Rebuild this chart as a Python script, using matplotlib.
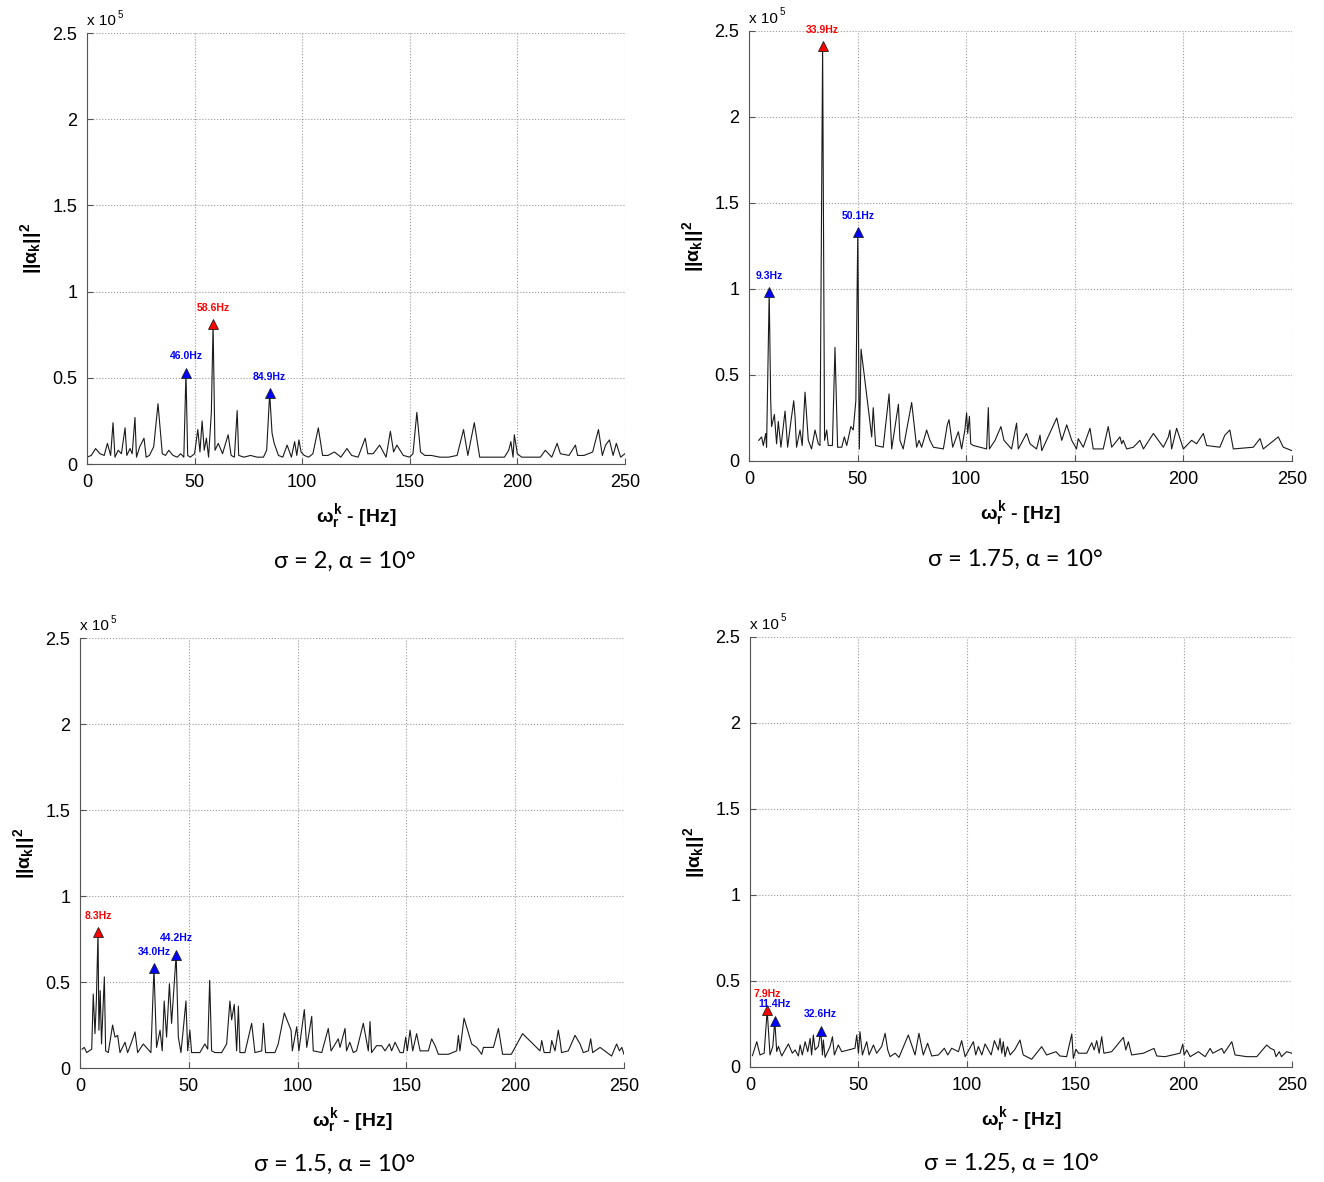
import numpy as np
import matplotlib
matplotlib.use('Agg')
import matplotlib.pyplot as plt

plt.rcParams['font.family'] = ['Liberation Sans', 'DejaVu Sans']
plt.rcParams['mathtext.fontset'] = 'custom'
plt.rcParams['mathtext.rm'] = 'Liberation Sans:bold'
plt.rcParams['mathtext.it'] = 'Liberation Sans:bold'
plt.rcParams['mathtext.bf'] = 'Liberation Sans:bold'

# values are in units of 1e5 (axis shows "x 10^5")

# sigma = 2
tl_freq = [0, 2, 4, 6, 8, 9.5, 11, 12.1, 13, 14.5,
           16, 17.7, 18.5, 20, 21, 22.3, 23, 24.5, 26.5, 27.5,
           29, 31, 33, 35, 36.5, 38, 40, 42, 43.5, 45,
           46.0, 46.8, 48, 50, 51.5, 52.5, 53.5, 54.5, 55.5, 56.5,
           57.8, 58.6, 59.5, 61, 63, 65.6, 67, 68.5, 69.8, 70.5,
           73, 76, 79, 82, 83.5, 84.9, 86, 87, 89, 91,
           93, 95, 96.5, 97.5, 98.5, 99.5, 101, 103, 105, 107.5,
           109.5, 112, 115, 118, 120.8, 123, 126, 129.3, 130.5, 133,
           136, 139, 141, 142.5, 144, 147, 150, 151.5, 153.3, 155,
           157, 160, 164, 168, 172, 175, 177, 180, 182.5, 186,
           190, 194, 196, 197, 198, 198.6, 200, 202, 205, 208,
           210.7, 213, 216, 218.5, 220, 224, 227, 228, 231, 235,
           237.7, 239.5, 241, 242.8, 244.5, 246, 248, 250]
tl_vals = [0.04, 0.05, 0.09, 0.06, 0.05, 0.12, 0.05, 0.24, 0.04, 0.08,
           0.06, 0.21, 0.05, 0.09, 0.06, 0.27, 0.04, 0.10, 0.15, 0.04,
           0.05, 0.10, 0.35, 0.06, 0.05, 0.08, 0.05, 0.04, 0.06, 0.04,
           0.53, 0.05, 0.04, 0.06, 0.20, 0.07, 0.25, 0.08, 0.15, 0.04,
           0.30, 0.81, 0.08, 0.12, 0.06, 0.17, 0.05, 0.04, 0.31, 0.05,
           0.04, 0.05, 0.04, 0.04, 0.08, 0.41, 0.18, 0.12, 0.05, 0.04,
           0.11, 0.04, 0.13, 0.05, 0.14, 0.07, 0.05, 0.04, 0.06, 0.21,
           0.05, 0.05, 0.07, 0.04, 0.09, 0.05, 0.04, 0.15, 0.06, 0.06,
           0.11, 0.04, 0.19, 0.07, 0.11, 0.05, 0.04, 0.06, 0.30, 0.07,
           0.05, 0.05, 0.04, 0.04, 0.05, 0.20, 0.05, 0.24, 0.04, 0.04,
           0.04, 0.04, 0.08, 0.13, 0.04, 0.17, 0.06, 0.04, 0.04, 0.04,
           0.04, 0.08, 0.04, 0.12, 0.06, 0.05, 0.11, 0.05, 0.05, 0.07,
           0.20, 0.05, 0.11, 0.14, 0.05, 0.12, 0.04, 0.06]
tl_peaks = [46.0, 58.6, 84.9]
tl_main = 58.6

# sigma = 1.75
tr_freq = [4.5, 5.8, 6.6, 7.7, 8.1, 9.3, 10.0, 10.4, 11.7, 12.7,
           13.5, 14.7, 16.6, 17.8, 19.2, 20.6, 21.2, 21.9, 23.5, 24.5,
           25.8, 27.3, 28.8, 30.4, 31.9, 32.7, 33.9, 34.8, 35.8, 36.5,
           38.4, 39.6, 40.8, 42.7, 43.9, 45.0, 46.9, 48.0, 49.2, 50.1,
           50.8, 51.6, 54.8, 56.5, 57.2, 58.3, 61.8, 64.5, 65.7, 68.8,
           69.5, 71.0, 74.9, 77.2, 78.3, 79.5, 81.8, 83.3, 84.9, 89.5,
           91.3, 92.1, 93.8, 96.4, 97.9, 99.4, 100.2, 100.7, 101.5, 102.1,
           103.3, 109.4, 110.2, 110.7, 113.3, 116.0, 117.4, 120.9, 123.2, 124.0,
           127.8, 129.4, 132.4, 134.0, 134.8, 141.7, 144.0, 146.3, 148.6, 150.8,
           151.6, 153.9, 157.0, 158.5, 163.1, 165.4, 167.0, 170.8, 171.6, 172.3,
           173.9, 177.0, 180.0, 181.6, 186.2, 190.8, 193.1, 193.8, 194.6, 196.9,
           200.0, 203.8, 206.1, 209.2, 210.7, 216.8, 219.1, 221.4, 223.0, 232.2,
           235.3, 236.8, 243.7, 246.0, 250.0]
tr_vals = [0.12, 0.14, 0.09, 0.16, 0.08, 0.98, 0.35, 0.20, 0.27, 0.10,
           0.23, 0.08, 0.29, 0.08, 0.22, 0.35, 0.26, 0.08, 0.18, 0.09,
           0.40, 0.12, 0.07, 0.18, 0.10, 0.09, 2.41, 0.12, 0.18, 0.09,
           0.09, 0.66, 0.08, 0.08, 0.14, 0.09, 0.20, 0.18, 0.35, 1.33,
           0.07, 0.65, 0.32, 0.14, 0.31, 0.09, 0.08, 0.39, 0.07, 0.33,
           0.12, 0.07, 0.34, 0.08, 0.12, 0.08, 0.18, 0.12, 0.08, 0.07,
           0.21, 0.24, 0.08, 0.17, 0.07, 0.18, 0.28, 0.16, 0.26, 0.10,
           0.09, 0.07, 0.31, 0.07, 0.12, 0.20, 0.12, 0.07, 0.22, 0.07,
           0.16, 0.10, 0.07, 0.15, 0.06, 0.25, 0.12, 0.21, 0.12, 0.07,
           0.13, 0.08, 0.19, 0.07, 0.07, 0.20, 0.08, 0.14, 0.10, 0.12,
           0.07, 0.08, 0.12, 0.07, 0.16, 0.08, 0.14, 0.18, 0.07, 0.19,
           0.07, 0.12, 0.10, 0.16, 0.09, 0.08, 0.15, 0.18, 0.07, 0.08,
           0.13, 0.07, 0.14, 0.08, 0.06]
tr_peaks = [9.3, 33.9, 50.1]
tr_main = 33.9

# sigma = 1.5
bl_freq = [1.0, 2.0, 3.1, 5.4, 6.1, 6.9, 7.5, 8.3, 8.7, 9.3,
           9.9, 11.2, 11.8, 13.0, 15.0, 16.1, 17.3, 18.4, 20.7, 21.9,
           23.4, 25.3, 26.5, 29.1, 32.6, 34.0, 35.2, 36.8, 37.8, 38.7,
           39.8, 41.1, 42.1, 44.2, 45.2, 46.4, 47.5, 48.7, 49.5, 50.5,
           51.3, 55.1, 57.4, 58.7, 59.6, 60.5, 62.0, 65.1, 67.4, 68.9,
           69.7, 70.9, 72.0, 72.8, 73.5, 75.8, 78.9, 80.4, 83.5, 84.3,
           85.3, 89.6, 91.1, 93.9, 97.0, 97.6, 99.6, 100.6, 103.1, 104.2,
           106.5, 107.2, 111.1, 114.1, 115.4, 118.7, 119.5, 121.8, 122.5, 124.0,
           125.6, 127.1, 130.2, 132.5, 133.3, 134.0, 136.3, 138.6, 140.2, 142.2,
           143.2, 144.8, 147.1, 148.6, 149.7, 150.4, 151.7, 152.9, 154.7, 156.3,
           158.6, 160.1, 161.6, 163.2, 164.7, 169.3, 173.1, 173.9, 174.6, 176.5,
           180.0, 182.3, 184.6, 185.4, 190.0, 192.3, 194.2, 198.2, 203.4, 211.4,
           212.2, 213.3, 216.0, 216.8, 218.3, 219.8, 220.6, 221.3, 224.4, 227.5,
           229.8, 231.3, 233.6, 234.7, 235.6, 239.0, 244.3, 246.6, 247.9, 249.0,
           250.0]
bl_vals = [0.11, 0.12, 0.09, 0.11, 0.43, 0.20, 0.38, 0.79, 0.22, 0.45,
           0.14, 0.53, 0.10, 0.09, 0.25, 0.18, 0.19, 0.09, 0.15, 0.09,
           0.14, 0.21, 0.09, 0.14, 0.09, 0.58, 0.12, 0.22, 0.10, 0.39,
           0.18, 0.49, 0.26, 0.66, 0.18, 0.09, 0.23, 0.39, 0.10, 0.22,
           0.09, 0.09, 0.14, 0.11, 0.51, 0.10, 0.09, 0.09, 0.14, 0.39,
           0.28, 0.37, 0.10, 0.36, 0.09, 0.09, 0.26, 0.09, 0.10, 0.26,
           0.09, 0.09, 0.14, 0.32, 0.22, 0.10, 0.24, 0.10, 0.34, 0.12,
           0.30, 0.10, 0.09, 0.23, 0.10, 0.17, 0.12, 0.23, 0.10, 0.15,
           0.09, 0.10, 0.26, 0.10, 0.27, 0.09, 0.13, 0.13, 0.10, 0.14,
           0.10, 0.15, 0.09, 0.09, 0.18, 0.10, 0.22, 0.10, 0.20, 0.10,
           0.10, 0.10, 0.17, 0.13, 0.08, 0.08, 0.10, 0.19, 0.10, 0.29,
           0.14, 0.12, 0.08, 0.12, 0.12, 0.23, 0.08, 0.08, 0.20, 0.10,
           0.16, 0.09, 0.09, 0.16, 0.10, 0.22, 0.16, 0.09, 0.10, 0.19,
           0.14, 0.09, 0.10, 0.17, 0.09, 0.12, 0.07, 0.14, 0.10, 0.12,
           0.08]
bl_peaks = [8.3, 34.0, 44.2]
bl_main = 8.3

# sigma = 1.25
br_freq = [1.1, 3.1, 4.6, 6.5, 7.9, 9.2, 10.5, 11.4, 12.3, 13.1,
           14.6, 17.7, 19.5, 20.8, 22.3, 23.1, 24.1, 25.4, 26.6, 27.7,
           28.4, 29.2, 30.0, 31.5, 32.6, 33.4, 33.8, 34.6, 36.9, 38.0,
           38.9, 40.7, 42.3, 45.4, 48.4, 49.2, 50.0, 50.7, 51.8, 53.8,
           54.9, 56.9, 58.4, 60.7, 62.3, 63.5, 64.6, 66.9, 68.7, 73.0,
           76.1, 77.9, 79.9, 81.9, 83.8, 86.9, 89.6, 91.2, 93.0, 96.1,
           97.6, 99.2, 103.0, 104.1, 105.3, 106.9, 108.4, 111.2, 112.7, 114.5,
           115.3, 116.1, 116.8, 117.6, 118.7, 120.0, 122.2, 124.5, 126.0, 129.9,
           134.5, 136.8, 141.1, 142.9, 146.0, 148.4, 149.1, 150.3, 151.5, 155.3,
           157.6, 158.7, 159.9, 161.0, 162.2, 163.2, 166.8, 172.2, 173.3, 174.5,
           176.0, 181.4, 186.3, 187.6, 191.4, 198.3, 199.6, 200.2, 201.4, 203.0,
           206.8, 209.9, 212.2, 213.4, 217.6, 218.6, 222.2, 223.7, 229.1, 233.7,
           238.3, 240.1, 241.7, 242.6, 244.1, 245.1, 247.5, 249.8]
br_vals = [0.066, 0.147, 0.07, 0.08, 0.33, 0.07, 0.12, 0.27, 0.09, 0.12,
           0.064, 0.134, 0.08, 0.099, 0.064, 0.128, 0.07, 0.147, 0.089, 0.166,
           0.07, 0.186, 0.099, 0.12, 0.21, 0.07, 0.157, 0.056, 0.119, 0.176,
           0.07, 0.128, 0.089, 0.099, 0.109, 0.186, 0.08, 0.205, 0.07, 0.147,
           0.07, 0.128, 0.08, 0.119, 0.196, 0.099, 0.06, 0.08, 0.056, 0.186,
           0.07, 0.196, 0.07, 0.138, 0.064, 0.07, 0.109, 0.07, 0.109, 0.089,
           0.153, 0.06, 0.147, 0.07, 0.119, 0.07, 0.134, 0.07, 0.153, 0.099,
           0.166, 0.08, 0.147, 0.06, 0.118, 0.07, 0.103, 0.157, 0.07, 0.045,
           0.118, 0.07, 0.089, 0.064, 0.06, 0.192, 0.05, 0.103, 0.08, 0.08,
           0.141, 0.099, 0.153, 0.08, 0.176, 0.08, 0.089, 0.172, 0.099, 0.147,
           0.07, 0.08, 0.108, 0.064, 0.06, 0.08, 0.133, 0.07, 0.099, 0.06,
           0.089, 0.06, 0.108, 0.08, 0.108, 0.08, 0.147, 0.07, 0.06, 0.06,
           0.128, 0.108, 0.099, 0.06, 0.089, 0.06, 0.089, 0.08]
br_peaks = [7.9, 11.4, 32.6]
br_main = 7.9

captions = ['σ = 2, α = 10°', 'σ = 1.75, α = 10°',
            'σ = 1.5, α = 10°', 'σ = 1.25, α = 10°']

# layout (figure fractions)
axes_rects = [[0.0657, 0.6074, 0.4063, 0.3646],
              [0.5657, 0.6100, 0.4101, 0.3638],
              [0.0604, 0.0964, 0.4109, 0.3638],
              [0.5665, 0.0973, 0.4094, 0.3638]]
caption_pos = [(0.2606, 0.525), (0.767, 0.527), (0.253, 0.015), (0.764, 0.016)]

series = [(tl_freq, tl_vals, tl_peaks, tl_main),
          (tr_freq, tr_vals, tr_peaks, tr_main),
          (bl_freq, bl_vals, bl_peaks, bl_main),
          (br_freq, br_vals, br_peaks, br_main)]

fig = plt.figure(figsize=(13.24, 11.82), dpi=100)

for i, (freq, vals, peaks, main) in enumerate(series):
    ax = fig.add_axes(axes_rects[i])
    ax.plot(freq, vals, color='#1a1a1a', lw=0.8)

    for p in peaks:
        pv = np.interp(p, freq, vals)
        col = '#ff0000' if p == main else '#0000ff'
        ax.plot([p], [pv], marker='^', ms=7, mfc=col, mec='#202020', mew=0.6,
                ls='none', zorder=5, clip_on=False)
        ax.annotate('{:.1f}Hz'.format(p), (p, pv), xytext=(0, 12),
                    textcoords='offset points', ha='center', va='center',
                    color=col, fontsize=7.5, fontweight='bold',
                    annotation_clip=False)

    ax.set_xlim(0, 250)
    ax.set_ylim(0, 2.5)
    ax.set_xticks([0, 50, 100, 150, 200, 250])
    ax.set_yticks([0, 0.5, 1, 1.5, 2, 2.5])
    ax.set_yticklabels(['0', '0.5', '1', '1.5', '2', '2.5'])
    ax.grid(True, linestyle=':', color='#9a9a9a', lw=0.8)
    for s in ['top', 'right']:
        ax.spines[s].set_visible(False)
    for s in ['left', 'bottom']:
        ax.spines[s].set_color('#555555')
    ax.tick_params(direction='in', length=4, labelsize=13, pad=7,
                   color='#555555')

    ax.set_xlabel(r'$\omega_r^k$ - [Hz]', fontsize=14, fontweight='bold',
                  labelpad=8)
    ax.set_ylabel(r'$||\alpha_k||^2$', fontsize=14, fontweight='bold',
                  labelpad=6)

    ax.text(0.0, 1.012, 'x 10', transform=ax.transAxes, fontsize=11,
            ha='left', va='bottom')
    ax.annotate('5', xy=(0.0, 1.012), xycoords='axes fraction',
                xytext=(22, 6), textcoords='offset points', fontsize=7,
                ha='left', va='bottom')

    fig.text(caption_pos[i][0], caption_pos[i][1], captions[i],
             ha='center', va='center', fontsize=17,
             family=['Lato', 'Open Sans', 'DejaVu Sans'])

fig.savefig('out.png', dpi=100)
